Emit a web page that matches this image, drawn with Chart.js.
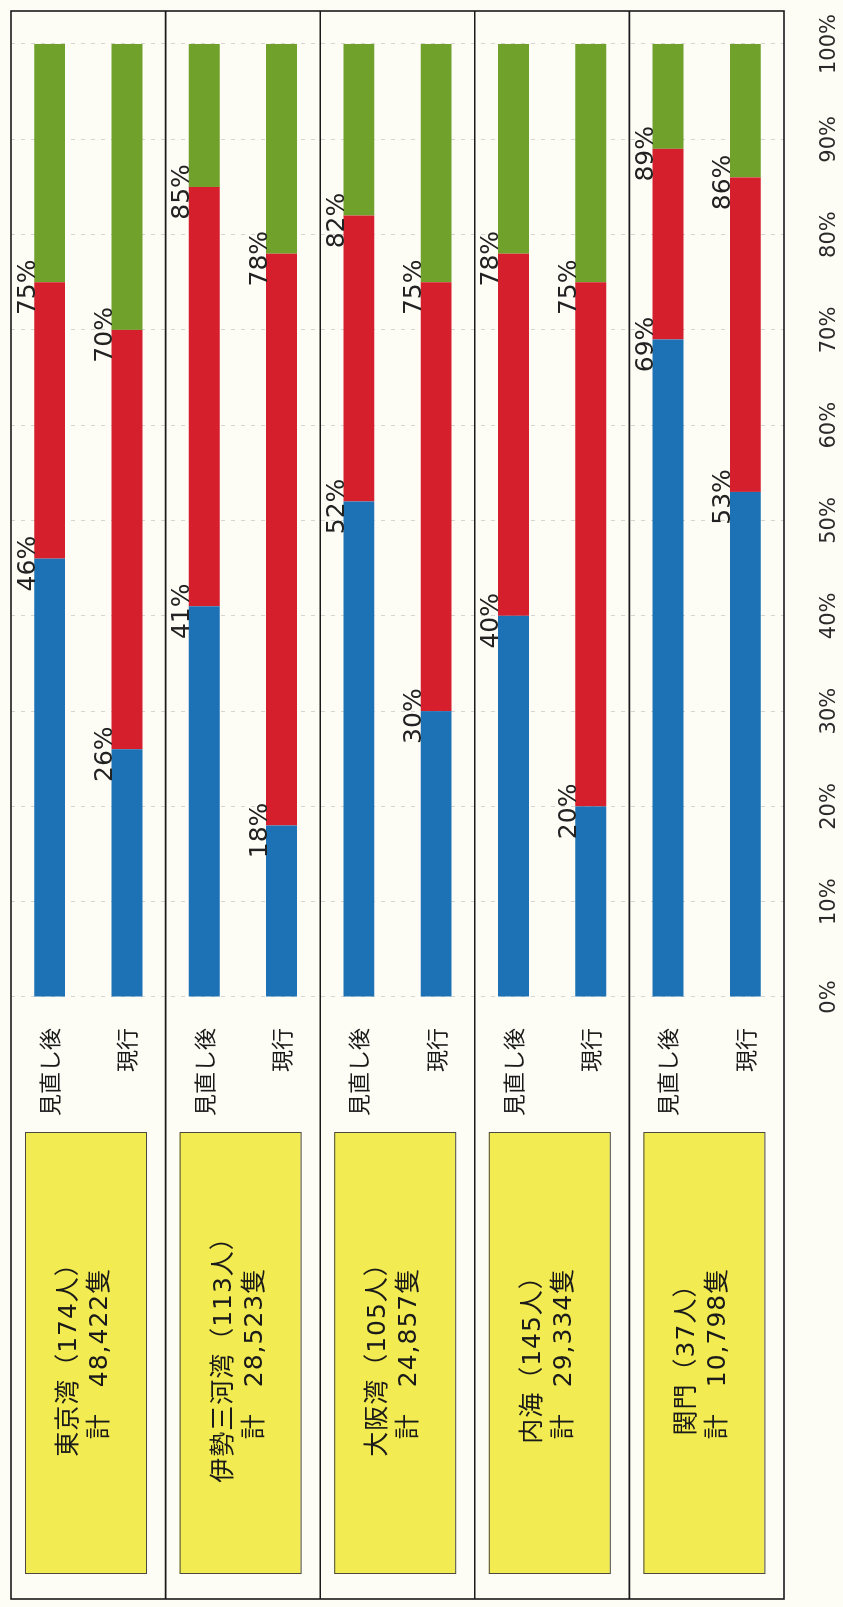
<!DOCTYPE html>
<html lang="ja">
<head>
<meta charset="utf-8">
<title>見直し後・現行 比較</title>
<script src="https://cdn.jsdelivr.net/npm/chart.js@4.4.1/dist/chart.umd.min.js"></script>
<style>
  html, body { margin: 0; padding: 0; width: 843px; height: 1607px; overflow: hidden; background: #fdfdf6; }
  /* the chart is laid out landscape and turned a quarter turn to stand upright */
  #wrap {
    position: absolute; left: 0; top: 0;
    width: 1607px; height: 843px;
    transform-origin: 0 0;
    transform: translateY(1607px) rotate(-90deg);
  }
</style>
</head>
<body>
<div id="wrap"><canvas id="chart" width="1607" height="843"></canvas></div>
<script>
'use strict';

/* ---------- data ---------- */
const areas    = ['東京湾', '伊勢三河湾', '大阪湾', '内海', '関門'];
const crew     = [174, 113, 105, 145, 37];
const vessels  = [48422, 28523, 24857, 29334, 10798];
const rowKinds = ['見直し後', '現行'];

// cumulative shares (%) per row: top of the blue part, top of the red part
const blueUpTo = [46, 26, 41, 18, 52, 30, 40, 20, 69, 53];
const redUpTo  = [75, 70, 85, 78, 82, 75, 78, 75, 89, 86];

const pctTicks = [0, 10, 20, 30, 40, 50, 60, 70, 80, 90, 100];

/* ---------- colours ---------- */
const BLUE   = '#1d72b5';
const RED    = '#d51f2d';
const GREEN  = '#6fa12b';
const YELLOW = '#f2eb52';
const INK    = '#1a1a1a';

const rowLabels = areas.flatMap(() => rowKinds);
const blueData  = blueUpTo.slice();
const redData   = redUpTo.map((v, i) => v - blueUpTo[i]);
const greenData = redUpTo.map(v => 100 - v);

/* frame, yellow area boxes and the cumulative % labels */
const framePlugin = {
  id: 'frameAndBoxes',
  afterDraw(chart) {
    const { ctx, chartArea, scales: { y } } = chart;
    const top = chartArea.top, bottom = chartArea.bottom;
    const left = 8, right = 1596;

    const bounds = [top];
    for (let g = 1; g < areas.length; g++) {
      bounds.push((y.getPixelForValue(g * 2 - 1) + y.getPixelForValue(g * 2)) / 2);
    }
    bounds.push(bottom);

    ctx.save();

    // area boxes
    areas.forEach((name, g) => {
      const bx = 33, bw = 441, by = bounds[g] + 14, bh = 121;
      ctx.fillStyle = YELLOW;
      ctx.fillRect(bx, by, bw, bh);
      ctx.strokeStyle = '#4a4a40';
      ctx.lineWidth = 1;
      ctx.strokeRect(bx + 0.5, by + 0.5, bw, bh);

      ctx.fillStyle = INK;
      ctx.font = '25px "DejaVu Sans", "Noto Sans CJK JP", sans-serif';
      ctx.textAlign = 'center';
      ctx.textBaseline = 'middle';
      ctx.letterSpacing = '1px';
      const cx = bx + bw / 2, cy = by + bh / 2;
      ctx.fillText(name + '（' + crew[g] + '人）', cx, cy - 16);
      ctx.fillText('計　' + vessels[g].toLocaleString('en-US') + '隻', cx, cy + 15);
      ctx.letterSpacing = '0px';
    });

    // outer frame and group separators
    ctx.strokeStyle = INK;
    ctx.lineWidth = 1.6;
    ctx.strokeRect(left, top, right - left, bottom - top);
    bounds.slice(1, -1).forEach(b => {
      ctx.beginPath();
      ctx.moveTo(left, b);
      ctx.lineTo(right, b);
      ctx.stroke();
    });

    // cumulative % labels just above each boundary
    ctx.font = '25px "DejaVu Sans", sans-serif';
    ctx.fillStyle = '#222';
    ctx.textAlign = 'center';
    ctx.textBaseline = 'middle';
    [blueUpTo, redUpTo].forEach((vals, d) => {
      chart.getDatasetMeta(d).data.forEach((bar, i) => {
        ctx.fillText(vals[i] + '%', bar.x - 5, bar.y - bar.height / 2 - 6);
      });
    });

    ctx.restore();
  }
};

const segment = (label, data, color) => ({
  label, data,
  backgroundColor: color,
  borderWidth: 0,
  barPercentage: 1,
  categoryPercentage: 0.4
});

new Chart(document.getElementById('chart'), {
  type: 'bar',
  data: {
    labels: rowLabels,
    datasets: [
      segment('青', blueData, BLUE),
      segment('赤', redData, RED),
      segment('緑', greenData, GREEN)
    ]
  },
  options: {
    indexAxis: 'y',
    responsive: false,
    animation: false,
    layout: { padding: { left: 480, right: 44, top: 11, bottom: 0 } },
    plugins: {
      legend: { display: false },
      tooltip: { enabled: false }
    },
    scales: {
      x: {
        stacked: true,
        min: 0,
        max: 100,
        afterBuildTicks(scale) { scale.ticks = pctTicks.map(v => ({ value: v })); },
        afterFit(scale) {
          scale.height = 59;
          scale.paddingLeft = 0;
          scale.paddingRight = 0;
        },
        ticks: {
          autoSkip: false,
          maxRotation: 0,
          padding: 33,
          color: '#2a2a2a',
          font: { family: '"DejaVu Sans", sans-serif', size: 21 },
          callback: v => v + '%'
        },
        grid: { color: 'rgba(120,120,120,0.3)', lineWidth: 1, drawTicks: false },
        border: { display: false, dash: [4, 6] }
      },
      y: {
        stacked: true,
        afterFit(scale) {
          scale.width = 130;
          scale.paddingTop = 0;
          scale.paddingBottom = 0;
        },
        ticks: {
          autoSkip: false,
          padding: 23,
          color: INK,
          font: { family: '"Noto Sans CJK JP", sans-serif', size: 22 }
        },
        grid: { display: false },
        border: { display: false }
      }
    }
  },
  plugins: [framePlugin]
});
</script>
</body>
</html>
